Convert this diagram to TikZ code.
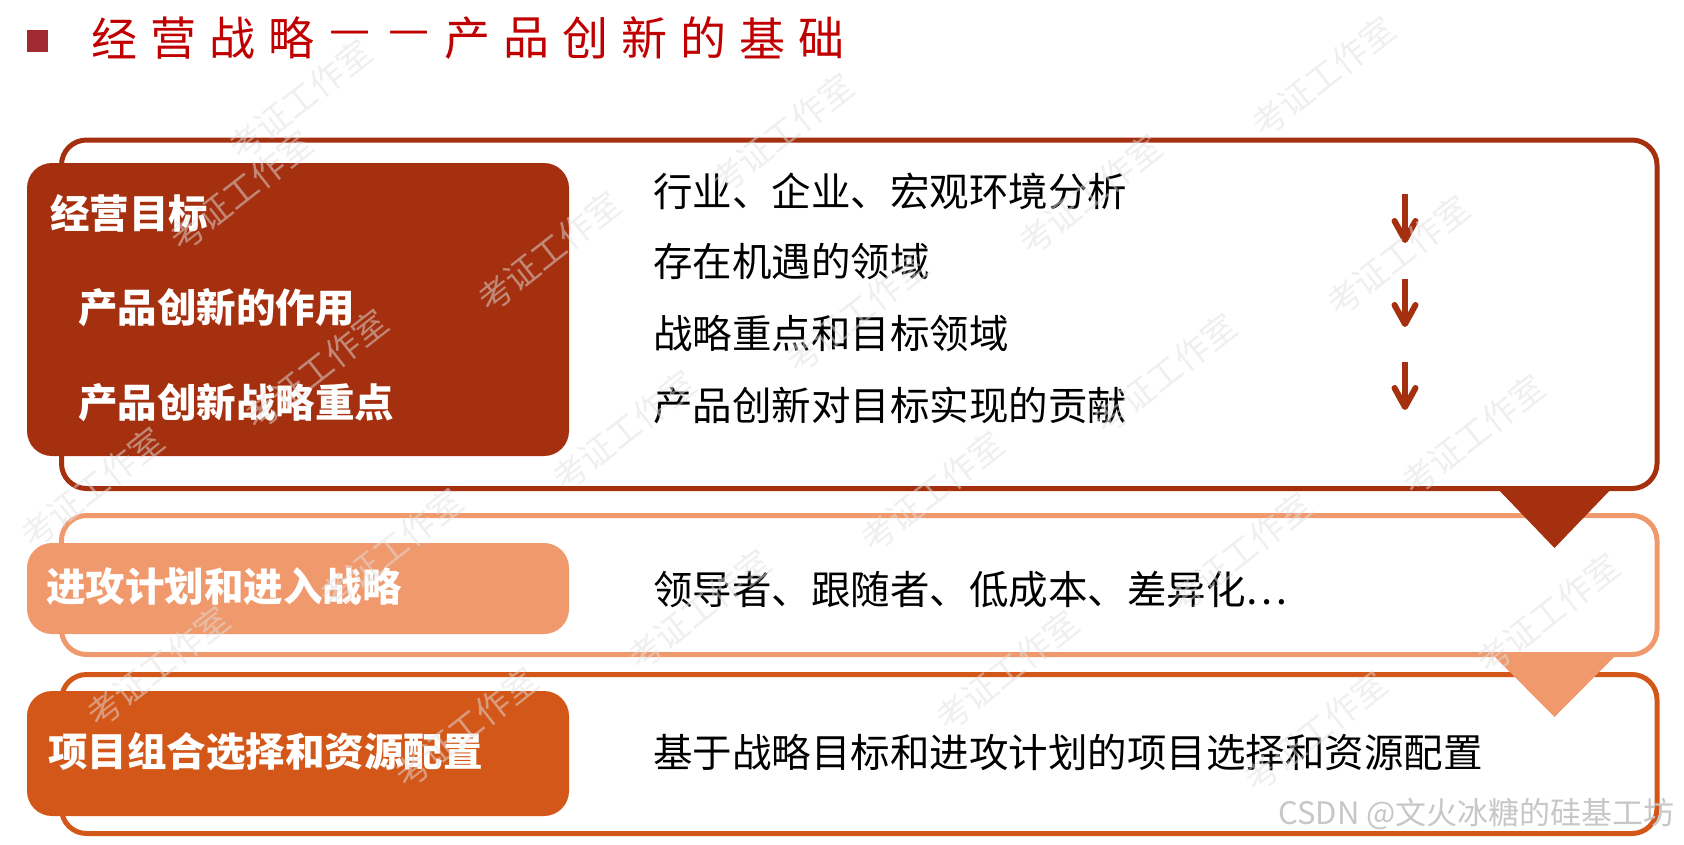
\documentclass[tikz,border=0pt]{standalone}
\usepackage{fontspec}
\setmainfont{Noto Sans CJK SC}
\usepackage{xcolor}
\usetikzlibrary{arrows.meta}
\definecolor{brickred}{HTML}{A5300F}
\definecolor{salmon}{HTML}{F0996C}
\definecolor{burnt}{HTML}{D35718}
\definecolor{titlered}{HTML}{C00000}
\definecolor{bulletred}{HTML}{A02A30}

\begin{document}
\begin{tikzpicture}[x=1pt,y=-1pt,
  frame/.style={line width=5pt, rounded corners=25pt},
  tab/.style={rounded corners=25pt},
  lbl/.style={anchor=west, inner sep=0pt, text=white, font=\fontsize{39.5}{40}\selectfont\bfseries},
  item/.style={anchor=west, inner sep=0pt, font=\fontsize{39.5}{40}\selectfont},
  titlech/.style={inner sep=0pt, text=titlered, font=\fontsize{46}{46}\selectfont},
  down/.style={line width=6pt, brickred, -{Straight Barb[length=19pt,width=21pt,round]}},
  wmark/.style={rotate=38, inner sep=0pt, text=black!12, opacity=.5, font=\fontsize{34}{34}\selectfont}]
\useasboundingbox (0,0) rectangle (1684,844);
%% title
\fill[bulletred] (27,30) rectangle (48,52);
\foreach \c [count=\i from 0] in {经,营,战,略,—,—,产,品,创,新,的,基,础}
  \node[titlech] (t\i) at ({114.5+58.9*\i},38) {\c};
%% frames
\draw[frame, brickred] (61.5,140) rectangle (1657,488.5);
\draw[frame, salmon] (61.5,515.5) rectangle (1657,654.5);
\draw[frame, burnt] (61.5,674.5) rectangle (1657,833.5);
%% tabs
\fill[tab, brickred] (27,163) rectangle (569,456);
\fill[tab, salmon] (27,543) rectangle (569,634);
\fill[tab, burnt] (27,691) rectangle (569,816);
%% pointers between frames
\fill[brickred] (1495,486) -- (1614,486) -- (1554.5,548) -- cycle;
\fill[salmon] (1495,657) -- (1614,657) -- (1554.5,717) -- cycle;
%% left labels
\node[lbl] (goal) at (50,213) {经营目标};
\node[lbl] (role) at (78,308) {产品创新的作用};
\node[lbl] (focus) at (78,403) {产品创新战略重点};
\node[lbl] (attack) at (46,587) {进攻计划和进入战略};
\node[lbl] (portfolio) at (48,752) {项目组合选择和资源配置};
%% right items
\node[item] (env) at (653,191) {行业、企业、宏观环境分析};
\node[item] (chance) at (653,261) {存在机遇的领域};
\node[item] (target) at (653,333) {战略重点和目标领域};
\node[item] (contrib) at (653,405) {产品创新对目标实现的贡献};
\node[item] (roles) at (653,590) {领导者、跟随者、低成本、差异化⋯};
\node[item] (select) at (653,752) {基于战略目标和进攻计划的项目选择和资源配置};
%% arrows
\coordinate (d1) at (1405,194); \coordinate (e1) at (1405,243);
\coordinate (d2) at (1405,279); \coordinate (e2) at (1405,327);
\coordinate (d3) at (1405,362); \coordinate (e3) at (1405,410);
\draw[down] (d1) -- (e1);
\draw[down] (d2) -- (e2);
\draw[down] (d3) -- (e3);
%% watermark
\node[anchor=east, inner sep=0pt, text=black!22, font=\fontsize{31}{31}\selectfont] (csdn) at (1675,814) {CSDN @文火冰糖的硅基工坊};
\begin{scope}
\clip (0,0) rectangle (1684,844);
\foreach \x/\y [count=\k] in {1323/77, 1398/256, 1090/195, 782/134, 300/100,
    1473/435, 1165/374, 857/313, 549/252, 241/191, 1548/614, 1240/553,
    932/492, 624/431, 316/370, 1315/732, 1007/671, 699/610, 391/549,
    92/488, 466/728, 158/667}
  \node[wmark] (wm\k) at (\x,\y) {考证工作室};
\end{scope}
\end{tikzpicture}
\end{document}
